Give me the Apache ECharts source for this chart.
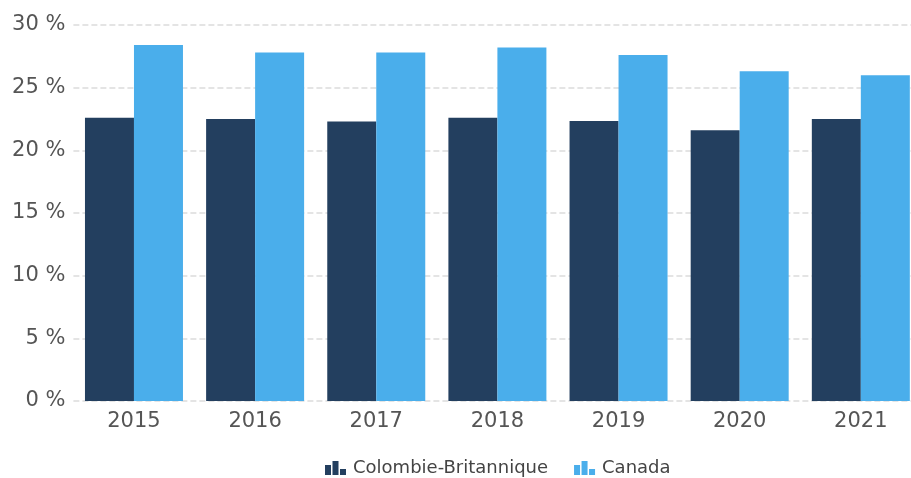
<!DOCTYPE html>
<html>
<head>
<meta charset="utf-8">
<script src="https://cdn.jsdelivr.net/npm/echarts@6/dist/echarts.min.js"></script>
<style>
  html, body { margin: 0; padding: 0; background: #fff; }
  #chart { width: 911px; height: 478px; }
</style>
</head>
<body>
<div id="chart"></div>
<script>
const years = ['2015', '2016', '2017', '2018', '2019', '2020', '2021']
const bcValues = [22.6, 22.5, 22.3, 22.6, 22.35, 21.6, 22.5]
const canadaValues = [28.4, 27.8, 27.8, 28.2, 27.6, 26.3, 26.0]

// petite icône "barres" de la légende
const barIcon = 'path://M0,4h6v10h-6z M7.5,0h6v14h-6z M15,8h6v6h-6z'
const FONT = 'DejaVu Sans, Verdana, sans-serif'

const chart = echarts.init(document.getElementById('chart'))

chart.setOption({
  animation: false,
  grid: {
    left: 73.4,
    width: 848,
    top: 25,
    bottom: 77,
    containLabel: false,
    outerBoundsMode: 'none'
  },
  legend: {
    top: 454,
    left: 320,
    itemWidth: 21,
    itemHeight: 14,
    itemGap: 26,
    icon: barIcon,
    textStyle: { fontFamily: FONT, fontSize: 18, color: '#444', padding: [0, 0, 0, 2] },
    data: ['Colombie-Britannique', 'Canada']
  },
  xAxis: {
    type: 'category',
    data: years,
    axisLine: { show: false },
    axisTick: { show: false },
    axisLabel: {
      fontFamily: FONT,
      fontSize: 21,
      color: '#555',
      margin: 10
    }
  },
  yAxis: {
    type: 'value',
    min: 0,
    max: 30,
    interval: 5,
    axisLine: { show: false },
    axisTick: { show: false },
    axisLabel: {
      fontFamily: FONT,
      fontSize: 21,
      color: '#555',
      margin: 8,
      formatter: v => v + ' %'
    },
    splitLine: {
      lineStyle: { type: [6, 3], color: '#dcdcdc', width: 1.5 }
    }
  },
  series: [
    {
      name: 'Colombie-Britannique',
      type: 'bar',
      data: bcValues,
      barWidth: 49,
      barGap: '0%',
      itemStyle: { color: '#233f5f' }
    },
    {
      name: 'Canada',
      type: 'bar',
      data: canadaValues,
      barWidth: 49,
      barGap: '0%',
      itemStyle: { color: '#4aaeeb' }
    }
  ]
})
</script>
</body>
</html>
